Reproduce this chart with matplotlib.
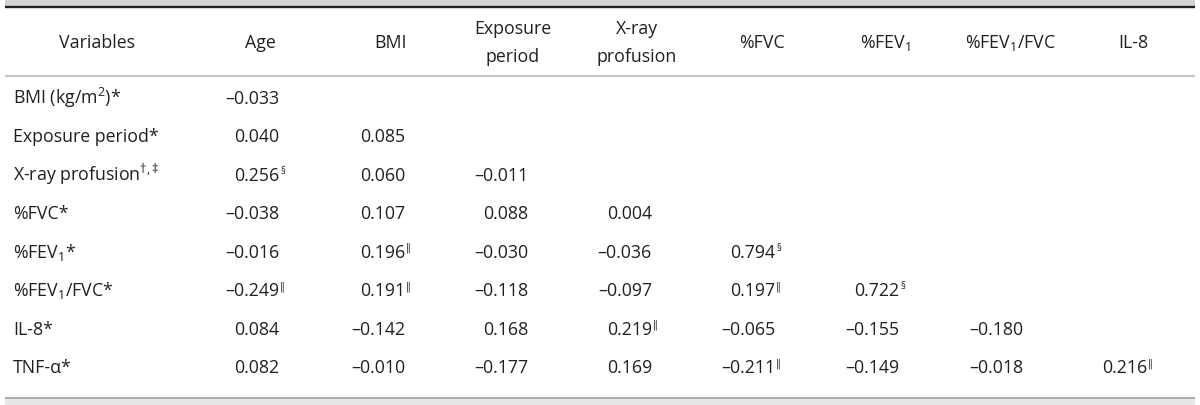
import matplotlib
matplotlib.use("Agg")
import matplotlib.pyplot as plt

plt.rcParams['font.family'] = ['Open Sans', 'DejaVu Sans']
plt.rcParams['mathtext.fontset'] = 'custom'
plt.rcParams['mathtext.rm'] = 'Open Sans'
plt.rcParams['mathtext.it'] = 'Open Sans'
plt.rcParams['mathtext.bf'] = 'Open Sans:bold'
plt.rcParams['mathtext.default'] = 'regular'

# ---- data ----
col_headers = ["Variables", "Age", "BMI", "Exposure\nperiod", "X-ray\nprofusion",
               "%FVC", "%FEV$_1$", "%FEV$_1$/FVC", "IL-8"]
row_labels = ["BMI (kg/m$^2$)*", "Exposure period*", "X-ray profusion$^{†,‡}$",
              "%FVC*", "%FEV$_1$*", "%FEV$_1$/FVC*", "IL-8*", "TNF-α*"]

row_bmi = [-0.033]
row_exposure = [0.040, 0.085]
row_xray = [0.256, 0.060, -0.011]
row_fvc = [-0.038, 0.107, 0.088, 0.004]
row_fev1 = [-0.016, 0.196, -0.030, -0.036, 0.794]
row_fev1fvc = [-0.249, 0.191, -0.118, -0.097, 0.197, 0.722]
row_il8 = [0.084, -0.142, 0.168, 0.219, -0.065, -0.155, -0.180]
row_tnf = [0.082, -0.010, -0.177, 0.169, -0.211, -0.149, -0.018, 0.216]

mark_bmi = [""]
mark_exposure = ["", ""]
mark_xray = ["§", "", ""]
mark_fvc = ["", "", "", ""]
mark_fev1 = ["", "‖", "", "", "§"]
mark_fev1fvc = ["‖", "‖", "", "", "‖", "§"]
mark_il8 = ["", "", "", "‖", "", "", ""]
mark_tnf = ["", "", "", "", "‖", "", "", "‖"]

values = [row_bmi, row_exposure, row_xray, row_fvc, row_fev1, row_fev1fvc, row_il8, row_tnf]
marks = [mark_bmi, mark_exposure, mark_xray, mark_fvc, mark_fev1, mark_fev1fvc, mark_il8, mark_tnf]

# ---- layout (pixels) ----
W, H = 1200, 406
left, right = 5, 1195
label_x = 13
header_centers = [97, 260, 391, 513, 637, 762, 885, 1010, 1133]
num_right = [279, 405, 528, 652, 775, 899, 1023, 1147]
header_y = 43
first_row_y = 98
row_step = 38.5
txt_color = '#231f20'
fs = 12.8

fig = plt.figure(figsize=(W / 100, H / 100), dpi=100)
ax = fig.add_axes([0, 0, 1, 1])
ax.set_xlim(0, W)
ax.set_ylim(H, 0)
ax.axis('off')

# rules and bands
ax.fill_between([left, right], 0, 6.5, color='#d1d3d4', lw=0)
ax.plot([left, right], [7.5, 7.5], color='#231f20', lw=1.7, solid_capstyle='butt')
ax.plot([left, right], [77, 77], color='#b1b3b6', lw=1.1, solid_capstyle='butt')
ax.plot([left, right], [399, 399], color='#939598', lw=1.1, solid_capstyle='butt')
ax.fill_between([left, right], 400, H, color='#e6e7e8', lw=0)

# headers
for i, h in enumerate(col_headers):
    ax.text(header_centers[i], header_y, h, ha='center', va='center',
            fontsize=fs, color=txt_color, linespacing=1.75)

# rows
baseline_off = 6
for r, lab in enumerate(row_labels):
    y = first_row_y + r * row_step + baseline_off
    ax.text(label_x, y, lab, ha='left', va='baseline', fontsize=fs, color=txt_color)
    for c, v in enumerate(values[r]):
        s = f"{v:.3f}".replace('-', '–')
        ax.text(num_right[c], y, s, ha='right', va='baseline', fontsize=fs, color=txt_color)
        m = marks[r][c]
        if m:
            ax.text(num_right[c] + 1, y - 7, m, ha='left', va='baseline',
                    fontsize=7, color=txt_color,
                    family=['Open Sans', 'DejaVu Sans'])

fig.savefig('out.png', dpi=100, facecolor='white')
